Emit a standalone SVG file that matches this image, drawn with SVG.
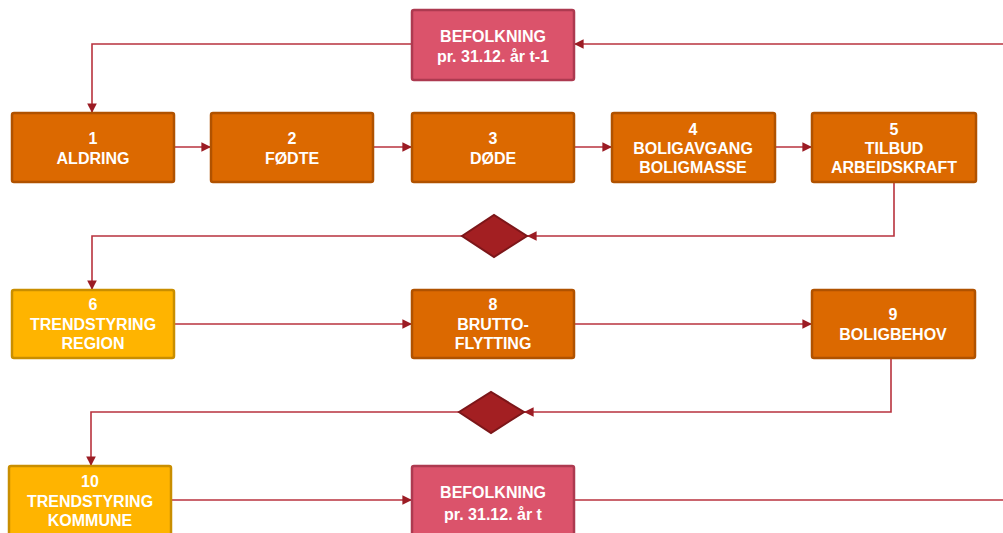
<svg xmlns="http://www.w3.org/2000/svg" width="1003" height="533" viewBox="0 0 1003 533">
<style>
.box{stroke-width:2.5}
.or{fill:#dc6900;stroke:#b05200}
.ye{fill:#ffb400;stroke:#c98e00}
.pk{fill:#db536b;stroke:#ad3a50}
.dia{fill:#a31f22;stroke:#7c1619;stroke-width:2}
.t{font-family:"Liberation Sans",Arial,sans-serif;font-weight:bold;font-size:16px;fill:#fff;text-anchor:middle;dominant-baseline:central}
.c{fill:none;stroke:#b8323e;stroke-width:1.6}
</style>
<defs>
<marker id="ah" viewBox="0 0 10 10" refX="10" refY="5" markerWidth="6" markerHeight="6" orient="auto" markerUnits="strokeWidth">
<path d="M0,0 L10,5 L0,10 z" fill="#9b1c24"/>
</marker>
</defs>
<g id="connectors">
<path class="c" d="M412,44 H92 V113" marker-end="url(#ah)"/>
<path class="c" d="M1003,44 H574" marker-end="url(#ah)"/>
<path class="c" d="M174,147 H211" marker-end="url(#ah)"/>
<path class="c" d="M373,147 H412" marker-end="url(#ah)"/>
<path class="c" d="M574,147 H612" marker-end="url(#ah)"/>
<path class="c" d="M775,147 H812" marker-end="url(#ah)"/>
<path class="c" d="M894,182 V236 H527" marker-end="url(#ah)"/>
<path class="c" d="M462,236 H92 V290" marker-end="url(#ah)"/>
<path class="c" d="M174,324 H412" marker-end="url(#ah)"/>
<path class="c" d="M574,324 H812" marker-end="url(#ah)"/>
<path class="c" d="M891,359 V412 H524" marker-end="url(#ah)"/>
<path class="c" d="M459,412 H91 V466" marker-end="url(#ah)"/>
<path class="c" d="M171,500 H412" marker-end="url(#ah)"/>
<path class="c" d="M574,500 H1003"/>
</g>
<g id="befolkning-start">
<rect class="box pk" x="412" y="10" width="162" height="70" rx="2"/>
<text class="t" x="493" y="36">BEFOLKNING</text>
<text class="t" x="493" y="56">pr. 31.12. år t-1</text>
</g>
<g id="n1">
<rect class="box or" x="12" y="113" width="162" height="69" rx="2"/>
<text class="t" x="93" y="138">1</text>
<text class="t" x="93" y="158">ALDRING</text>
</g>
<g id="n2">
<rect class="box or" x="211" y="113" width="162" height="69" rx="2"/>
<text class="t" x="292" y="138">2</text>
<text class="t" x="292" y="158">FØDTE</text>
</g>
<g id="n3">
<rect class="box or" x="412" y="113" width="162" height="69" rx="2"/>
<text class="t" x="493" y="138">3</text>
<text class="t" x="493" y="158">DØDE</text>
</g>
<g id="n4">
<rect class="box or" x="612" y="113" width="163" height="69" rx="2"/>
<text class="t" x="693" y="129">4</text>
<text class="t" x="693" y="148">BOLIGAVGANG</text>
<text class="t" x="693" y="167">BOLIGMASSE</text>
</g>
<g id="n5">
<rect class="box or" x="812" y="113" width="164" height="69" rx="2"/>
<text class="t" x="894" y="129">5</text>
<text class="t" x="894" y="148">TILBUD</text>
<text class="t" x="894" y="167">ARBEIDSKRAFT</text>
</g>
<g id="d1">
<polygon class="dia" points="462,236 494,215 527,236 494,257"/>
</g>
<g id="n6">
<rect class="box ye" x="12" y="290" width="162" height="68" rx="2"/>
<text class="t" x="93" y="304">6</text>
<text class="t" x="93" y="324">TRENDSTYRING</text>
<text class="t" x="93" y="343">REGION</text>
</g>
<g id="n8">
<rect class="box or" x="412" y="290" width="162" height="68" rx="2"/>
<text class="t" x="493" y="304">8</text>
<text class="t" x="493" y="324">BRUTTO-</text>
<text class="t" x="493" y="343">FLYTTING</text>
</g>
<g id="n9">
<rect class="box or" x="812" y="290" width="163" height="68" rx="2"/>
<text class="t" x="893" y="314">9</text>
<text class="t" x="893" y="334">BOLIGBEHOV</text>
</g>
<g id="d2">
<polygon class="dia" points="459,412 491,392 524,412 491,433"/>
</g>
<g id="n10">
<rect class="box ye" x="9" y="466" width="162" height="70" rx="2"/>
<text class="t" x="90" y="481">10</text>
<text class="t" x="90" y="501">TRENDSTYRING</text>
<text class="t" x="90" y="520">KOMMUNE</text>
</g>
<g id="befolkning-end">
<rect class="box pk" x="412" y="466" width="162" height="70" rx="2"/>
<text class="t" x="493" y="492">BEFOLKNING</text>
<text class="t" x="493" y="514">pr. 31.12. år t</text>
</g>
</svg>
